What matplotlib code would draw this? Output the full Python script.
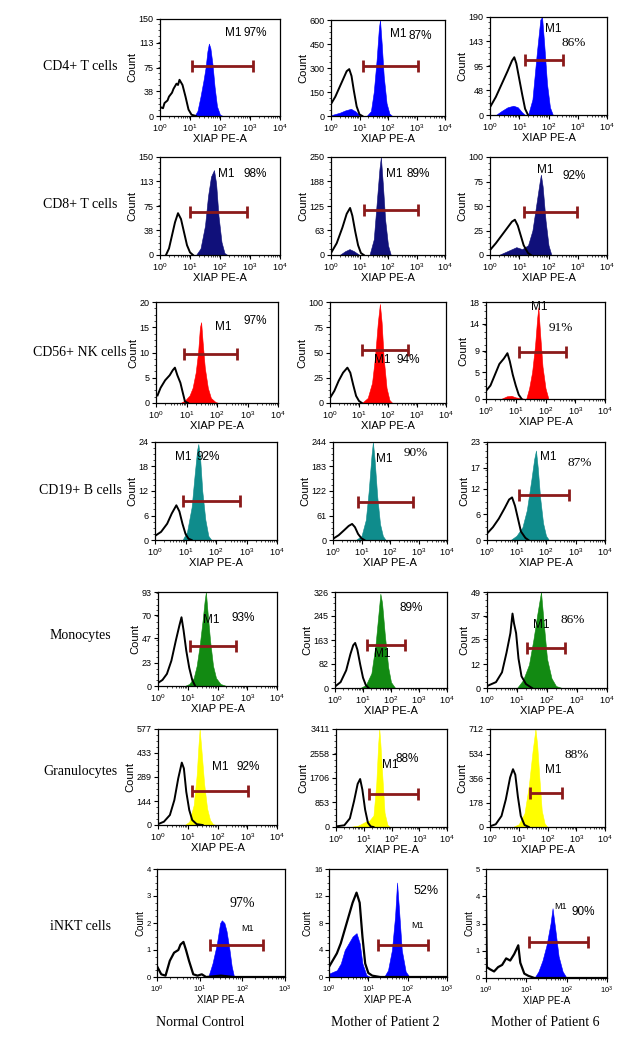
import numpy as np
import matplotlib
matplotlib.use("Agg")
import matplotlib.pyplot as plt
from matplotlib.ticker import LogLocator, NullFormatter, AutoMinorLocator

# Histogram outlines: (log10 XIAP PE-A, count)
# ctrl = isotype (black outline), stain = XIAP (filled)

# CD4+ T cells
cd4_nc_ctrl = [(0, 14), (0.1, 12), (0.15, 20), (0.25, 24), (0.3, 30), (0.4, 36), (0.45, 42), (0.55, 50), (0.6, 48), (0.65, 56), (0.75, 48), (0.85, 30), (0.95, 10), (1.05, 2), (1.2, 0)]
cd4_nc_stain = [(1.15, 0), (1.25, 8), (1.35, 30), (1.45, 55), (1.52, 75), (1.58, 100), (1.63, 112), (1.68, 105), (1.75, 80), (1.82, 45), (1.9, 15), (2.0, 2), (2.1, 0)]
cd4_m2_ctrl = [(0, 75), (0.15, 120), (0.3, 180), (0.45, 240), (0.55, 280), (0.64, 293), (0.72, 250), (0.8, 160), (0.9, 60), (1.0, 10), (1.1, 0)]
cd4_m2_stain = [(0, 5), (0.3, 20), (0.5, 35), (0.7, 45), (0.85, 30), (1.0, 5), (1.1, 0), (1.25, 0), (1.4, 30), (1.5, 150), (1.6, 350), (1.68, 550), (1.72, 600), (1.78, 450), (1.85, 250), (1.95, 80), (2.05, 15), (2.15, 0)]
cd4_m6_ctrl = [(0, 15), (0.2, 35), (0.4, 60), (0.6, 85), (0.75, 105), (0.83, 112), (0.9, 100), (1.0, 70), (1.1, 40), (1.2, 12), (1.3, 0)]
cd4_m6_stain = [(0.2, 0), (0.4, 8), (0.6, 15), (0.8, 18), (0.95, 15), (1.1, 5), (1.2, 0), (1.3, 0), (1.45, 30), (1.6, 120), (1.72, 185), (1.78, 190), (1.85, 140), (1.95, 60), (2.05, 15), (2.15, 0)]

# CD8+ T cells
cd8_nc_ctrl = [(0.2, 0), (0.3, 10), (0.4, 30), (0.5, 50), (0.6, 64), (0.7, 55), (0.8, 35), (0.9, 15), (1.0, 4), (1.1, 0)]
cd8_nc_stain = [(1.2, 0), (1.35, 10), (1.5, 45), (1.6, 90), (1.7, 120), (1.8, 130), (1.87, 110), (1.95, 60), (2.05, 20), (2.15, 3), (2.25, 0)]
cd8_m2_ctrl = [(0, 5), (0.2, 30), (0.4, 70), (0.55, 105), (0.67, 120), (0.75, 100), (0.85, 60), (0.95, 25), (1.05, 5), (1.15, 0)]
cd8_m2_stain = [(0.3, 0), (0.5, 10), (0.65, 15), (0.8, 10), (1.0, 0), (1.35, 0), (1.5, 40), (1.6, 130), (1.7, 220), (1.75, 250), (1.82, 180), (1.9, 90), (2.0, 25), (2.1, 0)]
cd8_m6_ctrl = [(0, 5), (0.2, 12), (0.4, 20), (0.6, 28), (0.75, 34), (0.85, 36), (0.95, 30), (1.05, 20), (1.15, 10), (1.3, 2), (1.4, 0)]
cd8_m6_stain = [(0.3, 0), (0.6, 4), (0.9, 8), (1.1, 6), (1.3, 10), (1.45, 25), (1.6, 55), (1.7, 75), (1.74, 82), (1.8, 70), (1.9, 35), (2.0, 10), (2.1, 0)]

# CD56+ NK cells
cd56_nc_ctrl = [(0.05, 1.5), (0.15, 3), (0.3, 4.5), (0.45, 5.5), (0.55, 6.5), (0.62, 7), (0.7, 5.5), (0.8, 4), (0.88, 2), (0.95, 0.3), (1.05, 0)]
cd56_nc_stain = [(0.8, 0), (0.95, 0.5), (1.1, 1.5), (1.2, 3), (1.3, 6), (1.38, 10), (1.44, 15), (1.48, 16), (1.53, 12), (1.6, 7), (1.7, 3), (1.8, 1), (1.95, 0.2), (2.05, 0)]
cd56_m2_ctrl = [(0, 5), (0.15, 12), (0.3, 22), (0.45, 30), (0.6, 35), (0.7, 30), (0.8, 18), (0.9, 7), (1.0, 2), (1.1, 0)]
cd56_m2_stain = [(1.1, 0), (1.3, 5), (1.45, 20), (1.55, 45), (1.65, 80), (1.72, 98), (1.78, 80), (1.85, 45), (1.95, 15), (2.05, 3), (2.15, 0)]
cd56_m6_ctrl = [(0, 1.5), (0.15, 2.5), (0.3, 4.5), (0.45, 6.5), (0.6, 7.5), (0.72, 8.5), (0.8, 7), (0.9, 4.5), (1.0, 2.5), (1.1, 0.8), (1.2, 0)]
cd56_m6_stain = [(0.5, 0), (0.7, 0.5), (0.85, 0.6), (1.0, 0.3), (1.35, 0), (1.45, 2), (1.55, 5), (1.65, 10), (1.72, 15), (1.76, 17), (1.82, 12), (1.9, 6), (2.0, 2), (2.1, 0)]

# CD19+ B cells
cd19_nc_ctrl = [(0, 1), (0.2, 2), (0.4, 4), (0.55, 6.5), (0.7, 8.5), (0.8, 7), (0.9, 4), (1.0, 1.5), (1.1, 0.3), (1.2, 0)]
cd19_nc_stain = [(0.9, 0), (1.05, 2), (1.2, 8), (1.3, 16), (1.38, 22), (1.42, 23.5), (1.48, 20), (1.55, 12), (1.65, 5), (1.75, 1), (1.85, 0)]
cd19_m2_ctrl = [(0, 3), (0.2, 12), (0.4, 25), (0.55, 35), (0.67, 40), (0.77, 32), (0.88, 15), (1.0, 4), (1.1, 0)]
cd19_m2_stain = [(0.8, 0), (1.0, 10), (1.15, 50), (1.25, 120), (1.35, 210), (1.4, 244), (1.46, 200), (1.55, 110), (1.65, 40), (1.75, 10), (1.85, 0)]
cd19_m6_ctrl = [(0, 1.5), (0.2, 3), (0.4, 5), (0.6, 7.5), (0.75, 9.5), (0.85, 10), (0.95, 8), (1.05, 5), (1.15, 2), (1.3, 0.5), (1.4, 0)]
cd19_m6_stain = [(0.8, 0), (1.0, 1), (1.2, 3), (1.35, 7), (1.5, 14), (1.6, 19), (1.66, 21), (1.72, 17), (1.8, 10), (1.9, 4), (2.0, 1), (2.1, 0)]

# Monocytes
mono_nc_ctrl = [(0, 3), (0.15, 6), (0.3, 12), (0.45, 25), (0.6, 45), (0.72, 60), (0.79, 68), (0.86, 55), (0.95, 35), (1.05, 18), (1.15, 6), (1.25, 0)]
mono_nc_stain = [(0.9, 0), (1.05, 2), (1.2, 8), (1.3, 20), (1.4, 40), (1.5, 65), (1.57, 85), (1.61, 93), (1.66, 75), (1.75, 45), (1.85, 20), (1.95, 8), (2.1, 2), (2.3, 0)]
mono_m2_ctrl = [(0, 5), (0.2, 20), (0.4, 60), (0.55, 115), (0.65, 145), (0.72, 153), (0.8, 130), (0.9, 80), (1.0, 35), (1.1, 10), (1.2, 0)]
mono_m2_stain = [(0.9, 0), (1.1, 10), (1.3, 50), (1.45, 150), (1.55, 250), (1.62, 320), (1.68, 290), (1.78, 180), (1.9, 70), (2.0, 20), (2.15, 0)]
mono_m6_ctrl = [(0, 1), (0.3, 3), (0.5, 8), (0.65, 18), (0.78, 28), (0.85, 38), (0.9, 33), (0.97, 28), (1.05, 15), (1.15, 6), (1.3, 2), (1.5, 0)]
mono_m6_stain = [(1.0, 0), (1.2, 4), (1.4, 12), (1.55, 25), (1.68, 38), (1.8, 49), (1.88, 35), (2.0, 15), (2.15, 5), (2.3, 1), (2.5, 0)]

# Granulocytes
gran_nc_ctrl = [(0, 5), (0.2, 20), (0.4, 60), (0.55, 150), (0.68, 280), (0.8, 375), (0.87, 340), (0.95, 200), (1.05, 90), (1.15, 30), (1.3, 5), (1.5, 0)]
gran_nc_stain = [(0.9, 0), (1.05, 20), (1.2, 120), (1.3, 300), (1.36, 480), (1.4, 577), (1.46, 450), (1.55, 250), (1.65, 100), (1.75, 30), (1.85, 5), (1.95, 0)]
gran_m2_ctrl = [(0, 20), (0.3, 60), (0.5, 300), (0.65, 900), (0.78, 1500), (0.87, 1670), (0.95, 1300), (1.05, 600), (1.15, 150), (1.25, 20), (1.35, 0)]
gran_m2_stain = [(0.5, 0), (0.8, 50), (1.0, 150), (1.1, 200), (1.2, 220), (1.35, 400), (1.45, 1500), (1.52, 2900), (1.56, 3411), (1.6, 2900), (1.68, 1600), (1.75, 500), (1.85, 80), (1.95, 0)]
gran_m6_ctrl = [(0, 5), (0.2, 20), (0.4, 80), (0.55, 200), (0.7, 360), (0.8, 420), (0.88, 380), (0.97, 220), (1.07, 80), (1.2, 15), (1.35, 0)]
gran_m6_stain = [(0.8, 0), (1.0, 20), (1.2, 100), (1.35, 300), (1.48, 550), (1.58, 712), (1.64, 600), (1.72, 350), (1.8, 120), (1.9, 25), (2.0, 0)]

# iNKT cells
inkt_nc_ctrl = [(0, 0.4), (0.1, 0.1), (0.2, 0.05), (0.3, 0.6), (0.4, 0.9), (0.5, 1.0), (0.55, 1.2), (0.62, 1.3), (0.68, 1.0), (0.75, 0.6), (0.85, 0.1), (0.95, 0.05), (1.05, 0.1), (1.15, 0), (1.5, 0.05), (1.8, 0), (3.0, 0)]
inkt_nc_stain = [(1.2, 0), (1.3, 0.5), (1.4, 1.2), (1.48, 2.0), (1.52, 2.1), (1.58, 2.0), (1.63, 1.7), (1.7, 1.0), (1.75, 0.4), (1.8, 0.05), (1.85, 0)]
inkt_m2_ctrl = [(0, 1.5), (0.1, 2.5), (0.2, 3.5), (0.3, 5), (0.4, 7), (0.5, 9), (0.6, 11), (0.7, 12.5), (0.78, 11), (0.85, 6), (0.92, 2), (1.0, 0.6), (1.1, 0.2), (1.3, 0), (3.0, 0)]
inkt_m2_stain = [(0, 0.5), (0.2, 1), (0.3, 2), (0.4, 4), (0.5, 5), (0.6, 6), (0.7, 6.5), (0.78, 5), (0.85, 2), (0.95, 0.3), (1.05, 0), (1.4, 0), (1.5, 1), (1.6, 4), (1.68, 9), (1.73, 14), (1.78, 10), (1.85, 4), (1.95, 0.8), (2.05, 0)]
inkt_m6_ctrl = [(0, 3.6), (0.02, 0.5), (0.1, 0.4), (0.2, 0.3), (0.3, 0.5), (0.4, 0.6), (0.5, 0.9), (0.6, 0.8), (0.7, 1.1), (0.8, 1.5), (0.85, 0.7), (0.95, 0.2), (1.05, 0.1), (1.2, 0), (3.0, 0)]
inkt_m6_stain = [(1.2, 0), (1.3, 0.3), (1.4, 0.8), (1.5, 1.5), (1.6, 2.5), (1.65, 3.2), (1.72, 2.2), (1.8, 1.0), (1.9, 0.3), (2.0, 0)]

# M1 gates: (log10 low, log10 high, count level)
gates_cd4 = [(1.06, 3.11, 78), (1.11, 3.06, 313), (1.2, 2.51, 106)]
gates_cd8 = [(1.0, 2.9, 66), (1.16, 3.05, 115), (1.16, 2.97, 44)]
gates_cd56 = [(0.93, 2.66, 9.7), (1.1, 2.69, 52), (1.1, 2.68, 8.8)]
gates_cd19 = [(0.92, 2.8, 9.5), (0.88, 2.8, 95), (1.1, 2.78, 10.5)]
gates_mono = [(1.07, 2.63, 39.4), (1.14, 2.5, 146), (1.34, 2.6, 20.6)]
gates_gran = [(1.15, 3.04, 205), (1.19, 2.94, 1145), (1.4, 2.5, 247)]
gates_inkt = [(1.24, 2.49, 1.18), (1.25, 2.51, 4.8), (1.07, 2.53, 1.63)]

# percentages
pct_cd4 = ["97%", "87%", "86%"]
pct_cd8 = ["98%", "89%", "92%"]
pct_cd56 = ["97%", "94%", "91%"]
pct_cd19 = ["92%", "90%", "87%"]
pct_mono = ["93%", "89%", "86%"]
pct_gran = ["92%", "88%", "88%"]
pct_inkt = ["97%", "52%", "90%"]

# y ticks
yt_cd4 = [[0, 38, 75, 113, 150], [0, 150, 300, 450, 600], [0, 48, 95, 143, 190]]
yt_cd8 = [[0, 38, 75, 113, 150], [0, 63, 125, 188, 250], [0, 25, 50, 75, 100]]
yt_cd56 = [[0, 5, 10, 15, 20], [0, 25, 50, 75, 100], [0, 5, 9, 14, 18]]
yt_cd19 = [[0, 6, 12, 18, 24], [0, 61, 122, 183, 244], [0, 6, 12, 17, 23]]
yt_mono = [[0, 23, 47, 70, 93], [0, 82, 163, 245, 326], [0, 12, 25, 37, 49]]
yt_gran = [[0, 144, 289, 433, 577], [0, 853, 1706, 2558, 3411], [0, 178, 356, 534, 712]]
yt_inkt = [[0, 1, 2, 3, 4], [0, 4, 8, 12, 16], [0, 1, 2, 3, 4, 5]]

row_names = ["CD4+ T cells", "CD8+ T cells", "CD56+ NK cells", "CD19+ B cells",
             "Monocytes", "Granulocytes", "iNKT cells"]
col_names = ["Normal Control", "Mother of Patient 2", "Mother of Patient 6"]

row_colors = ["#0000ff", "#10107a", "#ff0000", "#0f8c8c", "#128a12", "#ffff00", "#0000ff"]

rows = [
    ([cd4_nc_ctrl, cd4_m2_ctrl, cd4_m6_ctrl], [cd4_nc_stain, cd4_m2_stain, cd4_m6_stain], gates_cd4, pct_cd4, yt_cd4),
    ([cd8_nc_ctrl, cd8_m2_ctrl, cd8_m6_ctrl], [cd8_nc_stain, cd8_m2_stain, cd8_m6_stain], gates_cd8, pct_cd8, yt_cd8),
    ([cd56_nc_ctrl, cd56_m2_ctrl, cd56_m6_ctrl], [cd56_nc_stain, cd56_m2_stain, cd56_m6_stain], gates_cd56, pct_cd56, yt_cd56),
    ([cd19_nc_ctrl, cd19_m2_ctrl, cd19_m6_ctrl], [cd19_nc_stain, cd19_m2_stain, cd19_m6_stain], gates_cd19, pct_cd19, yt_cd19),
    ([mono_nc_ctrl, mono_m2_ctrl, mono_m6_ctrl], [mono_nc_stain, mono_m2_stain, mono_m6_stain], gates_mono, pct_mono, yt_mono),
    ([gran_nc_ctrl, gran_m2_ctrl, gran_m6_ctrl], [gran_nc_stain, gran_m2_stain, gran_m6_stain], gates_gran, pct_gran, yt_gran),
    ([inkt_nc_ctrl, inkt_m2_ctrl, inkt_m6_ctrl], [inkt_nc_stain, inkt_m2_stain, inkt_m6_stain], gates_inkt, pct_inkt, yt_inkt),
]

# panel boxes in pixels: (left, top, right, bottom)
boxes = [
    [(160, 19, 280, 116), (331, 20, 445, 116), (490, 17, 607, 115)],
    [(160, 157, 280, 255), (331, 157, 445, 255), (490, 157, 607, 255)],
    [(156, 302, 278, 403), (330, 302, 446, 403), (486, 302, 605, 399)],
    [(155, 442, 277, 540), (333, 442, 447, 540), (487, 442, 605, 540)],
    [(158, 592, 277, 686), (335, 592, 447, 688), (487, 592, 607, 688)],
    [(158, 729, 277, 825), (336, 729, 447, 827), (490, 729, 605, 827)],
    [(157, 869, 285, 977), (329, 869, 447, 977), (486, 869, 607, 978)],
]

# label placement (axes fraction): M1 xy, pct xy, pct serif?, font size
labels = [
    [((0.54, 0.82), (0.70, 0.82), False), ((0.52, 0.82), (0.68, 0.80), False), ((0.47, 0.85), (0.61, 0.70), True)],
    [((0.48, 0.80), (0.70, 0.80), False), ((0.48, 0.80), (0.66, 0.80), False), ((0.40, 0.84), (0.62, 0.78), False)],
    [((0.48, 0.72), (0.72, 0.78), False), ((0.38, 0.40), (0.57, 0.40), False), ((0.38, 0.92), (0.53, 0.70), True)],
    [((0.16, 0.82), (0.34, 0.82), False), ((0.38, 0.80), (0.62, 0.86), True), ((0.45, 0.82), (0.68, 0.76), True)],
    [((0.38, 0.67), (0.62, 0.69), False), ((0.35, 0.32), (0.58, 0.80), False), ((0.38, 0.63), (0.61, 0.68), True)],
    [((0.45, 0.57), (0.66, 0.57), False), ((0.41, 0.60), (0.54, 0.66), False), ((0.48, 0.55), (0.65, 0.70), True)],
    [((0.66, 0.43), (0.57, 0.65), True), ((0.70, 0.45), (0.72, 0.77), False), ((0.56, 0.63), (0.71, 0.58), False)],
]
inkt_pct_size = [10, 9, 8.5]

W, H = 622, 1050
fig = plt.figure(figsize=(W / 100, H / 100), dpi=100)
sans = "Liberation Sans"
serif = "Liberation Serif"

for r, (ctrls, stains, gates, pcts, yts) in enumerate(rows):
    small = r == 6
    fs = 5.5 if small else 6.5
    for c in range(3):
        l, t, rr, b = boxes[r][c]
        ax = fig.add_axes([l / W, 1 - b / H, (rr - l) / W, (b - t) / H])
        ax.set_xscale("log")
        xmax = 1e3 if small else 1e4
        ax.set_xlim(1, xmax)
        ax.set_ylim(0, yts[c][-1])

        st = np.array(stains[c], dtype=float)
        ax.fill_between(10 ** st[:, 0], st[:, 1], color=row_colors[r], lw=0.4, edgecolor=row_colors[r])
        ct = np.array(ctrls[c], dtype=float)
        ax.plot(10 ** ct[:, 0], ct[:, 1], color="black", lw=1.4 if not small else 1.6)

        lo, hi, gy = gates[c]
        ax.plot([10 ** lo, 10 ** hi], [gy, gy], color="#8b1a1a", lw=2,
                marker="|", ms=9, mew=2, solid_capstyle="butt")

        m1, pxy, pserif = labels[r][c]
        lfs = 6.5 if small else 8.5
        pfs = inkt_pct_size[c] if small else lfs + (1 if pserif else 0)
        ax.text(*m1, "M1", transform=ax.transAxes, fontsize=lfs, family=sans)
        ax.text(*pxy, pcts[c], transform=ax.transAxes, fontsize=pfs,
                family=serif if pserif else sans)

        ax.set_yticks(yts[c])
        if r == 6 and c == 2:
            ax.set_yticks([0, 1.25, 2.5, 3.75, 5])
            ax.set_yticklabels(["0", "1", "3", "4", "5"])
        ax.yaxis.set_minor_locator(AutoMinorLocator(4))
        ax.xaxis.set_major_locator(LogLocator(base=10, numticks=10))
        ax.xaxis.set_minor_locator(LogLocator(base=10, subs=np.arange(2, 10), numticks=10))
        ax.xaxis.set_minor_formatter(NullFormatter())
        ax.tick_params(which="major", length=3, width=0.8, labelsize=fs, pad=1.5)
        ax.tick_params(which="minor", length=1.5, width=0.5)
        for lab in ax.get_xticklabels() + ax.get_yticklabels():
            lab.set_family(sans)
        for s in ax.spines.values():
            s.set_linewidth(0.9)
        ax.set_ylabel("Count", fontsize=fs + 1.5, family=sans, labelpad=1)
        ax.set_xlabel("XIAP PE-A", fontsize=fs + 1.5, family=sans, labelpad=0)

row_y = [67, 204, 352, 490, 636, 772, 926]
for name, y in zip(row_names, row_y):
    fig.text(80 / W, 1 - y / H, name, ha="center", va="center", fontsize=10, family=serif)

col_x = [200, 385, 545]
for name, x in zip(col_names, col_x):
    fig.text(x / W, 1 - 1023 / H, name, ha="center", va="center", fontsize=10, family=serif)

fig.savefig("out.png", dpi=100)
